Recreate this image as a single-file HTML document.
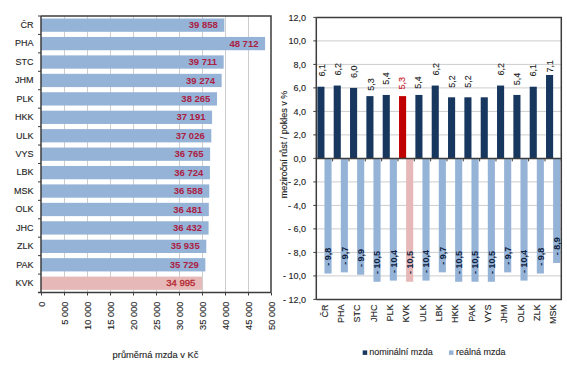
<!DOCTYPE html>
<html><head><meta charset="utf-8"><style>
html,body{margin:0;padding:0;background:#fff;width:567px;height:384px;overflow:hidden}
svg{display:block;font-family:"Liberation Sans", sans-serif}
</style></head><body>
<svg width="567" height="384" viewBox="0 0 567 384">
<rect x="0" y="0" width="567" height="384" fill="#ffffff"/>
<line x1="64.50" y1="16.0" x2="64.50" y2="292.5" stroke="#cdcdcd" stroke-width="1"/>
<line x1="87.50" y1="16.0" x2="87.50" y2="292.5" stroke="#cdcdcd" stroke-width="1"/>
<line x1="110.50" y1="16.0" x2="110.50" y2="292.5" stroke="#cdcdcd" stroke-width="1"/>
<line x1="133.50" y1="16.0" x2="133.50" y2="292.5" stroke="#cdcdcd" stroke-width="1"/>
<line x1="156.50" y1="16.0" x2="156.50" y2="292.5" stroke="#cdcdcd" stroke-width="1"/>
<line x1="179.50" y1="16.0" x2="179.50" y2="292.5" stroke="#cdcdcd" stroke-width="1"/>
<line x1="202.50" y1="16.0" x2="202.50" y2="292.5" stroke="#cdcdcd" stroke-width="1"/>
<line x1="225.50" y1="16.0" x2="225.50" y2="292.5" stroke="#cdcdcd" stroke-width="1"/>
<line x1="248.50" y1="16.0" x2="248.50" y2="292.5" stroke="#cdcdcd" stroke-width="1"/>
<rect x="41.0" y="18.50" width="183.35" height="13.3" fill="#95b3d7"/>
<rect x="41.0" y="36.93" width="224.08" height="13.3" fill="#95b3d7"/>
<rect x="41.0" y="55.37" width="182.67" height="13.3" fill="#95b3d7"/>
<rect x="41.0" y="73.80" width="180.66" height="13.3" fill="#95b3d7"/>
<rect x="41.0" y="92.23" width="176.02" height="13.3" fill="#95b3d7"/>
<rect x="41.0" y="110.67" width="171.08" height="13.3" fill="#95b3d7"/>
<rect x="41.0" y="129.10" width="170.32" height="13.3" fill="#95b3d7"/>
<rect x="41.0" y="147.53" width="169.12" height="13.3" fill="#95b3d7"/>
<rect x="41.0" y="165.97" width="168.93" height="13.3" fill="#95b3d7"/>
<rect x="41.0" y="184.40" width="168.30" height="13.3" fill="#95b3d7"/>
<rect x="41.0" y="202.83" width="167.81" height="13.3" fill="#95b3d7"/>
<rect x="41.0" y="221.27" width="167.59" height="13.3" fill="#95b3d7"/>
<rect x="41.0" y="239.70" width="165.30" height="13.3" fill="#95b3d7"/>
<rect x="41.0" y="258.13" width="164.35" height="13.3" fill="#95b3d7"/>
<rect x="41.0" y="276.57" width="160.98" height="13.3" fill="#e6b9b8"/>
<polyline points="41.0,16.0 271.0,16.0 271.0,292.5" fill="none" stroke="#3c3c3c" stroke-width="1.5"/>
<line x1="41.0" y1="16.0" x2="41.0" y2="292.5" stroke="#3c3c3c" stroke-width="1.5"/>
<line x1="38.0" y1="292.5" x2="271.0" y2="292.5" stroke="#3c3c3c" stroke-width="1.5"/>
<line x1="38.0" y1="16.00" x2="41.0" y2="16.00" stroke="#3c3c3c" stroke-width="1"/>
<line x1="38.0" y1="34.43" x2="41.0" y2="34.43" stroke="#3c3c3c" stroke-width="1"/>
<line x1="38.0" y1="52.87" x2="41.0" y2="52.87" stroke="#3c3c3c" stroke-width="1"/>
<line x1="38.0" y1="71.30" x2="41.0" y2="71.30" stroke="#3c3c3c" stroke-width="1"/>
<line x1="38.0" y1="89.73" x2="41.0" y2="89.73" stroke="#3c3c3c" stroke-width="1"/>
<line x1="38.0" y1="108.17" x2="41.0" y2="108.17" stroke="#3c3c3c" stroke-width="1"/>
<line x1="38.0" y1="126.60" x2="41.0" y2="126.60" stroke="#3c3c3c" stroke-width="1"/>
<line x1="38.0" y1="145.03" x2="41.0" y2="145.03" stroke="#3c3c3c" stroke-width="1"/>
<line x1="38.0" y1="163.47" x2="41.0" y2="163.47" stroke="#3c3c3c" stroke-width="1"/>
<line x1="38.0" y1="181.90" x2="41.0" y2="181.90" stroke="#3c3c3c" stroke-width="1"/>
<line x1="38.0" y1="200.33" x2="41.0" y2="200.33" stroke="#3c3c3c" stroke-width="1"/>
<line x1="38.0" y1="218.77" x2="41.0" y2="218.77" stroke="#3c3c3c" stroke-width="1"/>
<line x1="38.0" y1="237.20" x2="41.0" y2="237.20" stroke="#3c3c3c" stroke-width="1"/>
<line x1="38.0" y1="255.63" x2="41.0" y2="255.63" stroke="#3c3c3c" stroke-width="1"/>
<line x1="38.0" y1="274.07" x2="41.0" y2="274.07" stroke="#3c3c3c" stroke-width="1"/>
<line x1="38.0" y1="292.50" x2="41.0" y2="292.50" stroke="#3c3c3c" stroke-width="1"/>
<line x1="41.50" y1="292.5" x2="41.50" y2="295.5" stroke="#3c3c3c" stroke-width="1"/>
<line x1="64.50" y1="292.5" x2="64.50" y2="295.5" stroke="#3c3c3c" stroke-width="1"/>
<line x1="87.50" y1="292.5" x2="87.50" y2="295.5" stroke="#3c3c3c" stroke-width="1"/>
<line x1="110.50" y1="292.5" x2="110.50" y2="295.5" stroke="#3c3c3c" stroke-width="1"/>
<line x1="133.50" y1="292.5" x2="133.50" y2="295.5" stroke="#3c3c3c" stroke-width="1"/>
<line x1="156.50" y1="292.5" x2="156.50" y2="295.5" stroke="#3c3c3c" stroke-width="1"/>
<line x1="179.50" y1="292.5" x2="179.50" y2="295.5" stroke="#3c3c3c" stroke-width="1"/>
<line x1="202.50" y1="292.5" x2="202.50" y2="295.5" stroke="#3c3c3c" stroke-width="1"/>
<line x1="225.50" y1="292.5" x2="225.50" y2="295.5" stroke="#3c3c3c" stroke-width="1"/>
<line x1="248.50" y1="292.5" x2="248.50" y2="295.5" stroke="#3c3c3c" stroke-width="1"/>
<line x1="271.50" y1="292.5" x2="271.50" y2="295.5" stroke="#3c3c3c" stroke-width="1"/>
<text x="33.5" y="28.02" text-anchor="end" font-size="9" fill="#1e1e1e" stroke="#1e1e1e" stroke-width="0.12">ČR</text>
<text x="33.5" y="46.45" text-anchor="end" font-size="9" fill="#1e1e1e" stroke="#1e1e1e" stroke-width="0.12">PHA</text>
<text x="33.5" y="64.88" text-anchor="end" font-size="9" fill="#1e1e1e" stroke="#1e1e1e" stroke-width="0.12">STC</text>
<text x="33.5" y="83.32" text-anchor="end" font-size="9" fill="#1e1e1e" stroke="#1e1e1e" stroke-width="0.12">JHM</text>
<text x="33.5" y="101.75" text-anchor="end" font-size="9" fill="#1e1e1e" stroke="#1e1e1e" stroke-width="0.12">PLK</text>
<text x="33.5" y="120.18" text-anchor="end" font-size="9" fill="#1e1e1e" stroke="#1e1e1e" stroke-width="0.12">HKK</text>
<text x="33.5" y="138.62" text-anchor="end" font-size="9" fill="#1e1e1e" stroke="#1e1e1e" stroke-width="0.12">ULK</text>
<text x="33.5" y="157.05" text-anchor="end" font-size="9" fill="#1e1e1e" stroke="#1e1e1e" stroke-width="0.12">VYS</text>
<text x="33.5" y="175.48" text-anchor="end" font-size="9" fill="#1e1e1e" stroke="#1e1e1e" stroke-width="0.12">LBK</text>
<text x="33.5" y="193.92" text-anchor="end" font-size="9" fill="#1e1e1e" stroke="#1e1e1e" stroke-width="0.12">MSK</text>
<text x="33.5" y="212.35" text-anchor="end" font-size="9" fill="#1e1e1e" stroke="#1e1e1e" stroke-width="0.12">OLK</text>
<text x="33.5" y="230.78" text-anchor="end" font-size="9" fill="#1e1e1e" stroke="#1e1e1e" stroke-width="0.12">JHC</text>
<text x="33.5" y="249.22" text-anchor="end" font-size="9" fill="#1e1e1e" stroke="#1e1e1e" stroke-width="0.12">ZLK</text>
<text x="33.5" y="267.65" text-anchor="end" font-size="9" fill="#1e1e1e" stroke="#1e1e1e" stroke-width="0.12">PAK</text>
<text x="33.5" y="286.08" text-anchor="end" font-size="9" fill="#1e1e1e" stroke="#1e1e1e" stroke-width="0.12">KVK</text>
<text x="217.75" y="28.22" text-anchor="end" font-size="9.5" font-weight="bold" fill="#ac2042">39 858</text>
<text x="258.48" y="46.65" text-anchor="end" font-size="9.5" font-weight="bold" fill="#ac2042">48 712</text>
<text x="217.07" y="65.08" text-anchor="end" font-size="9.5" font-weight="bold" fill="#ac2042">39 711</text>
<text x="215.06" y="83.52" text-anchor="end" font-size="9.5" font-weight="bold" fill="#ac2042">39 274</text>
<text x="210.42" y="101.95" text-anchor="end" font-size="9.5" font-weight="bold" fill="#ac2042">38 265</text>
<text x="205.48" y="120.38" text-anchor="end" font-size="9.5" font-weight="bold" fill="#ac2042">37 191</text>
<text x="204.72" y="138.82" text-anchor="end" font-size="9.5" font-weight="bold" fill="#ac2042">37 026</text>
<text x="203.52" y="157.25" text-anchor="end" font-size="9.5" font-weight="bold" fill="#ac2042">36 765</text>
<text x="203.33" y="175.68" text-anchor="end" font-size="9.5" font-weight="bold" fill="#ac2042">36 724</text>
<text x="202.70" y="194.12" text-anchor="end" font-size="9.5" font-weight="bold" fill="#ac2042">36 588</text>
<text x="202.21" y="212.55" text-anchor="end" font-size="9.5" font-weight="bold" fill="#ac2042">36 481</text>
<text x="201.99" y="230.98" text-anchor="end" font-size="9.5" font-weight="bold" fill="#ac2042">36 432</text>
<text x="199.70" y="249.42" text-anchor="end" font-size="9.5" font-weight="bold" fill="#ac2042">35 935</text>
<text x="198.75" y="267.85" text-anchor="end" font-size="9.5" font-weight="bold" fill="#ac2042">35 729</text>
<text x="195.38" y="286.38" text-anchor="end" font-size="9.5" fill="#b42832" stroke="#b42832" stroke-width="0.35">34 995</text>
<text transform="translate(44.60,301.5) rotate(-90)" text-anchor="end" font-size="9.3" fill="#1e1e1e" stroke="#1e1e1e" stroke-width="0.12">0</text>
<text transform="translate(67.60,301.5) rotate(-90)" text-anchor="end" font-size="9.3" fill="#1e1e1e" stroke="#1e1e1e" stroke-width="0.12">5 000</text>
<text transform="translate(90.60,301.5) rotate(-90)" text-anchor="end" font-size="9.3" fill="#1e1e1e" stroke="#1e1e1e" stroke-width="0.12">10 000</text>
<text transform="translate(113.60,301.5) rotate(-90)" text-anchor="end" font-size="9.3" fill="#1e1e1e" stroke="#1e1e1e" stroke-width="0.12">15 000</text>
<text transform="translate(136.60,301.5) rotate(-90)" text-anchor="end" font-size="9.3" fill="#1e1e1e" stroke="#1e1e1e" stroke-width="0.12">20 000</text>
<text transform="translate(159.60,301.5) rotate(-90)" text-anchor="end" font-size="9.3" fill="#1e1e1e" stroke="#1e1e1e" stroke-width="0.12">25 000</text>
<text transform="translate(182.60,301.5) rotate(-90)" text-anchor="end" font-size="9.3" fill="#1e1e1e" stroke="#1e1e1e" stroke-width="0.12">30 000</text>
<text transform="translate(205.60,301.5) rotate(-90)" text-anchor="end" font-size="9.3" fill="#1e1e1e" stroke="#1e1e1e" stroke-width="0.12">35 000</text>
<text transform="translate(228.60,301.5) rotate(-90)" text-anchor="end" font-size="9.3" fill="#1e1e1e" stroke="#1e1e1e" stroke-width="0.12">40 000</text>
<text transform="translate(251.60,301.5) rotate(-90)" text-anchor="end" font-size="9.3" fill="#1e1e1e" stroke="#1e1e1e" stroke-width="0.12">45 000</text>
<text transform="translate(274.60,301.5) rotate(-90)" text-anchor="end" font-size="9.3" fill="#1e1e1e" stroke="#1e1e1e" stroke-width="0.12">50 000</text>
<text x="155.5" y="358.2" text-anchor="middle" font-size="9.3" fill="#1e1e1e" stroke="#1e1e1e" stroke-width="0.12">průměrná mzda v Kč</text>
<line x1="316.3" y1="275.90" x2="561.3" y2="275.90" stroke="#cdcdcd" stroke-width="1"/>
<line x1="316.3" y1="252.40" x2="561.3" y2="252.40" stroke="#cdcdcd" stroke-width="1"/>
<line x1="316.3" y1="228.90" x2="561.3" y2="228.90" stroke="#cdcdcd" stroke-width="1"/>
<line x1="316.3" y1="205.40" x2="561.3" y2="205.40" stroke="#cdcdcd" stroke-width="1"/>
<line x1="316.3" y1="181.90" x2="561.3" y2="181.90" stroke="#cdcdcd" stroke-width="1"/>
<line x1="316.3" y1="134.90" x2="561.3" y2="134.90" stroke="#cdcdcd" stroke-width="1"/>
<line x1="316.3" y1="111.40" x2="561.3" y2="111.40" stroke="#cdcdcd" stroke-width="1"/>
<line x1="316.3" y1="87.90" x2="561.3" y2="87.90" stroke="#cdcdcd" stroke-width="1"/>
<line x1="316.3" y1="64.40" x2="561.3" y2="64.40" stroke="#cdcdcd" stroke-width="1"/>
<line x1="316.3" y1="40.90" x2="561.3" y2="40.90" stroke="#cdcdcd" stroke-width="1"/>
<rect x="317.37" y="86.72" width="7.1" height="71.68" fill="#17375e"/>
<rect x="324.47" y="158.40" width="7.1" height="115.15" fill="#95b3d7"/>
<rect x="333.70" y="85.55" width="7.1" height="72.85" fill="#17375e"/>
<rect x="340.80" y="158.40" width="7.1" height="113.97" fill="#95b3d7"/>
<rect x="350.03" y="87.90" width="7.1" height="70.50" fill="#17375e"/>
<rect x="357.13" y="158.40" width="7.1" height="116.32" fill="#95b3d7"/>
<rect x="366.37" y="96.12" width="7.1" height="62.28" fill="#17375e"/>
<rect x="373.47" y="158.40" width="7.1" height="123.37" fill="#95b3d7"/>
<rect x="382.70" y="94.95" width="7.1" height="63.45" fill="#17375e"/>
<rect x="389.80" y="158.40" width="7.1" height="122.20" fill="#95b3d7"/>
<rect x="399.03" y="96.12" width="7.1" height="62.28" fill="#c00000"/>
<rect x="406.13" y="158.40" width="7.1" height="123.37" fill="#e6b9b8"/>
<rect x="415.37" y="94.95" width="7.1" height="63.45" fill="#17375e"/>
<rect x="422.47" y="158.40" width="7.1" height="122.20" fill="#95b3d7"/>
<rect x="431.70" y="85.55" width="7.1" height="72.85" fill="#17375e"/>
<rect x="438.80" y="158.40" width="7.1" height="113.97" fill="#95b3d7"/>
<rect x="448.03" y="97.30" width="7.1" height="61.10" fill="#17375e"/>
<rect x="455.13" y="158.40" width="7.1" height="123.37" fill="#95b3d7"/>
<rect x="464.37" y="97.30" width="7.1" height="61.10" fill="#17375e"/>
<rect x="471.47" y="158.40" width="7.1" height="123.37" fill="#95b3d7"/>
<rect x="480.70" y="97.30" width="7.1" height="61.10" fill="#17375e"/>
<rect x="487.80" y="158.40" width="7.1" height="123.37" fill="#95b3d7"/>
<rect x="497.03" y="85.55" width="7.1" height="72.85" fill="#17375e"/>
<rect x="504.13" y="158.40" width="7.1" height="113.97" fill="#95b3d7"/>
<rect x="513.37" y="94.95" width="7.1" height="63.45" fill="#17375e"/>
<rect x="520.47" y="158.40" width="7.1" height="122.20" fill="#95b3d7"/>
<rect x="529.70" y="86.72" width="7.1" height="71.68" fill="#17375e"/>
<rect x="536.80" y="158.40" width="7.1" height="115.15" fill="#95b3d7"/>
<rect x="546.03" y="74.98" width="7.1" height="83.42" fill="#17375e"/>
<rect x="553.13" y="158.40" width="7.1" height="104.57" fill="#95b3d7"/>
<polyline points="316.3,17.4 561.3,17.4 561.3,299.4 316.3,299.4" fill="none" stroke="#3c3c3c" stroke-width="1.5"/>
<line x1="316.3" y1="17.4" x2="316.3" y2="299.4" stroke="#3c3c3c" stroke-width="1.5"/>
<line x1="316.3" y1="158.40" x2="561.3" y2="158.40" stroke="#3c3c3c" stroke-width="1.5"/>
<line x1="313.3" y1="299.40" x2="316.3" y2="299.40" stroke="#3c3c3c" stroke-width="1"/>
<line x1="313.3" y1="275.90" x2="316.3" y2="275.90" stroke="#3c3c3c" stroke-width="1"/>
<line x1="313.3" y1="252.40" x2="316.3" y2="252.40" stroke="#3c3c3c" stroke-width="1"/>
<line x1="313.3" y1="228.90" x2="316.3" y2="228.90" stroke="#3c3c3c" stroke-width="1"/>
<line x1="313.3" y1="205.40" x2="316.3" y2="205.40" stroke="#3c3c3c" stroke-width="1"/>
<line x1="313.3" y1="181.90" x2="316.3" y2="181.90" stroke="#3c3c3c" stroke-width="1"/>
<line x1="313.3" y1="158.40" x2="316.3" y2="158.40" stroke="#3c3c3c" stroke-width="1"/>
<line x1="313.3" y1="134.90" x2="316.3" y2="134.90" stroke="#3c3c3c" stroke-width="1"/>
<line x1="313.3" y1="111.40" x2="316.3" y2="111.40" stroke="#3c3c3c" stroke-width="1"/>
<line x1="313.3" y1="87.90" x2="316.3" y2="87.90" stroke="#3c3c3c" stroke-width="1"/>
<line x1="313.3" y1="64.40" x2="316.3" y2="64.40" stroke="#3c3c3c" stroke-width="1"/>
<line x1="313.3" y1="40.90" x2="316.3" y2="40.90" stroke="#3c3c3c" stroke-width="1"/>
<line x1="313.3" y1="17.40" x2="316.3" y2="17.40" stroke="#3c3c3c" stroke-width="1"/>
<line x1="332.63" y1="158.40" x2="332.63" y2="161.40" stroke="#3c3c3c" stroke-width="1"/>
<line x1="348.97" y1="158.40" x2="348.97" y2="161.40" stroke="#3c3c3c" stroke-width="1"/>
<line x1="365.30" y1="158.40" x2="365.30" y2="161.40" stroke="#3c3c3c" stroke-width="1"/>
<line x1="381.63" y1="158.40" x2="381.63" y2="161.40" stroke="#3c3c3c" stroke-width="1"/>
<line x1="397.97" y1="158.40" x2="397.97" y2="161.40" stroke="#3c3c3c" stroke-width="1"/>
<line x1="414.30" y1="158.40" x2="414.30" y2="161.40" stroke="#3c3c3c" stroke-width="1"/>
<line x1="430.63" y1="158.40" x2="430.63" y2="161.40" stroke="#3c3c3c" stroke-width="1"/>
<line x1="446.97" y1="158.40" x2="446.97" y2="161.40" stroke="#3c3c3c" stroke-width="1"/>
<line x1="463.30" y1="158.40" x2="463.30" y2="161.40" stroke="#3c3c3c" stroke-width="1"/>
<line x1="479.63" y1="158.40" x2="479.63" y2="161.40" stroke="#3c3c3c" stroke-width="1"/>
<line x1="495.97" y1="158.40" x2="495.97" y2="161.40" stroke="#3c3c3c" stroke-width="1"/>
<line x1="512.30" y1="158.40" x2="512.30" y2="161.40" stroke="#3c3c3c" stroke-width="1"/>
<line x1="528.63" y1="158.40" x2="528.63" y2="161.40" stroke="#3c3c3c" stroke-width="1"/>
<line x1="544.97" y1="158.40" x2="544.97" y2="161.40" stroke="#3c3c3c" stroke-width="1"/>
<line x1="561.30" y1="158.40" x2="561.30" y2="161.40" stroke="#3c3c3c" stroke-width="1"/>
<text x="306" y="302.60" text-anchor="end" font-size="9" fill="#1e1e1e" stroke="#1e1e1e" stroke-width="0.12">- 12,0</text>
<text x="306" y="279.10" text-anchor="end" font-size="9" fill="#1e1e1e" stroke="#1e1e1e" stroke-width="0.12">- 10,0</text>
<text x="306" y="255.60" text-anchor="end" font-size="9" fill="#1e1e1e" stroke="#1e1e1e" stroke-width="0.12">- 8,0</text>
<text x="306" y="232.10" text-anchor="end" font-size="9" fill="#1e1e1e" stroke="#1e1e1e" stroke-width="0.12">- 6,0</text>
<text x="306" y="208.60" text-anchor="end" font-size="9" fill="#1e1e1e" stroke="#1e1e1e" stroke-width="0.12">- 4,0</text>
<text x="306" y="185.10" text-anchor="end" font-size="9" fill="#1e1e1e" stroke="#1e1e1e" stroke-width="0.12">- 2,0</text>
<text x="306" y="161.60" text-anchor="end" font-size="9" fill="#1e1e1e" stroke="#1e1e1e" stroke-width="0.12">0,0</text>
<text x="306" y="138.10" text-anchor="end" font-size="9" fill="#1e1e1e" stroke="#1e1e1e" stroke-width="0.12">2,0</text>
<text x="306" y="114.60" text-anchor="end" font-size="9" fill="#1e1e1e" stroke="#1e1e1e" stroke-width="0.12">4,0</text>
<text x="306" y="91.10" text-anchor="end" font-size="9" fill="#1e1e1e" stroke="#1e1e1e" stroke-width="0.12">6,0</text>
<text x="306" y="67.60" text-anchor="end" font-size="9" fill="#1e1e1e" stroke="#1e1e1e" stroke-width="0.12">8,0</text>
<text x="306" y="44.10" text-anchor="end" font-size="9" fill="#1e1e1e" stroke="#1e1e1e" stroke-width="0.12">10,0</text>
<text x="306" y="20.60" text-anchor="end" font-size="9" fill="#1e1e1e" stroke="#1e1e1e" stroke-width="0.12">12,0</text>
<text transform="translate(286.8,144.5) rotate(-90)" text-anchor="middle" font-size="9" fill="#1e1e1e" stroke="#1e1e1e" stroke-width="0.12">meziroční růst / pokles v %</text>
<text transform="translate(327.77,304.5) rotate(-90)" text-anchor="end" font-size="9" fill="#1e1e1e" stroke="#1e1e1e" stroke-width="0.12">ČR</text>
<text transform="translate(344.10,304.5) rotate(-90)" text-anchor="end" font-size="9" fill="#1e1e1e" stroke="#1e1e1e" stroke-width="0.12">PHA</text>
<text transform="translate(360.43,304.5) rotate(-90)" text-anchor="end" font-size="9" fill="#1e1e1e" stroke="#1e1e1e" stroke-width="0.12">STC</text>
<text transform="translate(376.77,304.5) rotate(-90)" text-anchor="end" font-size="9" fill="#1e1e1e" stroke="#1e1e1e" stroke-width="0.12">JHC</text>
<text transform="translate(393.10,304.5) rotate(-90)" text-anchor="end" font-size="9" fill="#1e1e1e" stroke="#1e1e1e" stroke-width="0.12">PLK</text>
<text transform="translate(409.43,304.5) rotate(-90)" text-anchor="end" font-size="9" fill="#1e1e1e" stroke="#1e1e1e" stroke-width="0.12">KVK</text>
<text transform="translate(425.77,304.5) rotate(-90)" text-anchor="end" font-size="9" fill="#1e1e1e" stroke="#1e1e1e" stroke-width="0.12">ULK</text>
<text transform="translate(442.10,304.5) rotate(-90)" text-anchor="end" font-size="9" fill="#1e1e1e" stroke="#1e1e1e" stroke-width="0.12">LBK</text>
<text transform="translate(458.43,304.5) rotate(-90)" text-anchor="end" font-size="9" fill="#1e1e1e" stroke="#1e1e1e" stroke-width="0.12">HKK</text>
<text transform="translate(474.77,304.5) rotate(-90)" text-anchor="end" font-size="9" fill="#1e1e1e" stroke="#1e1e1e" stroke-width="0.12">PAK</text>
<text transform="translate(491.10,304.5) rotate(-90)" text-anchor="end" font-size="9" fill="#1e1e1e" stroke="#1e1e1e" stroke-width="0.12">VYS</text>
<text transform="translate(507.43,304.5) rotate(-90)" text-anchor="end" font-size="9" fill="#1e1e1e" stroke="#1e1e1e" stroke-width="0.12">JHM</text>
<text transform="translate(523.77,304.5) rotate(-90)" text-anchor="end" font-size="9" fill="#1e1e1e" stroke="#1e1e1e" stroke-width="0.12">OLK</text>
<text transform="translate(540.10,304.5) rotate(-90)" text-anchor="end" font-size="9" fill="#1e1e1e" stroke="#1e1e1e" stroke-width="0.12">ZLK</text>
<text transform="translate(556.43,304.5) rotate(-90)" text-anchor="end" font-size="9" fill="#1e1e1e" stroke="#1e1e1e" stroke-width="0.12">MSK</text>
<text transform="translate(325.00,70.30) rotate(-90)" text-anchor="middle" font-size="9" fill="#1e1e1e" stroke="#1e1e1e" stroke-width="0.12">6,1</text>
<text transform="translate(341.10,69.20) rotate(-90)" text-anchor="middle" font-size="9" fill="#1e1e1e" stroke="#1e1e1e" stroke-width="0.12">6,2</text>
<text transform="translate(356.50,71.70) rotate(-90)" text-anchor="middle" font-size="9" fill="#1e1e1e" stroke="#1e1e1e" stroke-width="0.12">6,0</text>
<text transform="translate(374.30,84.50) rotate(-90)" text-anchor="middle" font-size="9" fill="#1e1e1e" stroke="#1e1e1e" stroke-width="0.12">5,3</text>
<text transform="translate(389.30,78.60) rotate(-90)" text-anchor="middle" font-size="9" fill="#1e1e1e" stroke="#1e1e1e" stroke-width="0.12">5,4</text>
<text transform="translate(404.80,83.20) rotate(-90)" text-anchor="middle" font-size="9" fill="#c8141e" stroke="#c8141e" stroke-width="0.12">5,3</text>
<text transform="translate(421.40,82.60) rotate(-90)" text-anchor="middle" font-size="9" fill="#1e1e1e" stroke="#1e1e1e" stroke-width="0.12">5,4</text>
<text transform="translate(438.50,69.20) rotate(-90)" text-anchor="middle" font-size="9" fill="#1e1e1e" stroke="#1e1e1e" stroke-width="0.12">6,2</text>
<text transform="translate(455.10,81.50) rotate(-90)" text-anchor="middle" font-size="9" fill="#1e1e1e" stroke="#1e1e1e" stroke-width="0.12">5,2</text>
<text transform="translate(471.10,81.50) rotate(-90)" text-anchor="middle" font-size="9" fill="#1e1e1e" stroke="#1e1e1e" stroke-width="0.12">5,2</text>
<text transform="translate(503.90,69.20) rotate(-90)" text-anchor="middle" font-size="9" fill="#1e1e1e" stroke="#1e1e1e" stroke-width="0.12">6,2</text>
<text transform="translate(519.90,79.00) rotate(-90)" text-anchor="middle" font-size="9" fill="#1e1e1e" stroke="#1e1e1e" stroke-width="0.12">5,4</text>
<text transform="translate(536.30,70.20) rotate(-90)" text-anchor="middle" font-size="9" fill="#1e1e1e" stroke="#1e1e1e" stroke-width="0.12">6,1</text>
<text transform="translate(552.70,66.20) rotate(-90)" text-anchor="middle" font-size="9" fill="#1e1e1e" stroke="#1e1e1e" stroke-width="0.12">7,1</text>
<text transform="translate(331.32,265.85) rotate(-90)" text-anchor="start" font-size="9" font-weight="bold" fill="#0e2140">- 9,8</text>
<text transform="translate(347.65,264.68) rotate(-90)" text-anchor="start" font-size="9" font-weight="bold" fill="#0e2140">- 9,7</text>
<text transform="translate(363.98,267.02) rotate(-90)" text-anchor="start" font-size="9" font-weight="bold" fill="#0e2140">- 9,9</text>
<text transform="translate(380.32,274.07) rotate(-90)" text-anchor="start" font-size="9" font-weight="bold" fill="#0e2140">- 10,5</text>
<text transform="translate(396.65,272.90) rotate(-90)" text-anchor="start" font-size="9" font-weight="bold" fill="#0e2140">- 10,4</text>
<text transform="translate(412.98,274.07) rotate(-90)" text-anchor="start" font-size="9" font-weight="bold" fill="#0e2140">- 10,5</text>
<text transform="translate(429.32,272.90) rotate(-90)" text-anchor="start" font-size="9" font-weight="bold" fill="#0e2140">- 10,4</text>
<text transform="translate(445.65,264.68) rotate(-90)" text-anchor="start" font-size="9" font-weight="bold" fill="#0e2140">- 9,7</text>
<text transform="translate(461.98,274.07) rotate(-90)" text-anchor="start" font-size="9" font-weight="bold" fill="#0e2140">- 10,5</text>
<text transform="translate(478.32,274.07) rotate(-90)" text-anchor="start" font-size="9" font-weight="bold" fill="#0e2140">- 10,5</text>
<text transform="translate(494.65,274.07) rotate(-90)" text-anchor="start" font-size="9" font-weight="bold" fill="#0e2140">- 10,5</text>
<text transform="translate(510.98,264.68) rotate(-90)" text-anchor="start" font-size="9" font-weight="bold" fill="#0e2140">- 9,7</text>
<text transform="translate(527.32,272.90) rotate(-90)" text-anchor="start" font-size="9" font-weight="bold" fill="#0e2140">- 10,4</text>
<text transform="translate(543.65,265.85) rotate(-90)" text-anchor="start" font-size="9" font-weight="bold" fill="#0e2140">- 9,8</text>
<text transform="translate(559.98,255.27) rotate(-90)" text-anchor="start" font-size="9" font-weight="bold" fill="#0e2140">- 8,9</text>
<rect x="362.7" y="350.4" width="4.5" height="4.5" fill="#17375e"/>
<text x="369.3" y="355" font-size="9" fill="#1e1e1e" stroke="#1e1e1e" stroke-width="0.1">nominální mzda</text>
<rect x="449" y="350.4" width="4.5" height="4.5" fill="#95b3d7"/>
<text x="456" y="355" font-size="9" fill="#1e1e1e" stroke="#1e1e1e" stroke-width="0.1">reálná mzda</text>
</svg>
</body></html>
